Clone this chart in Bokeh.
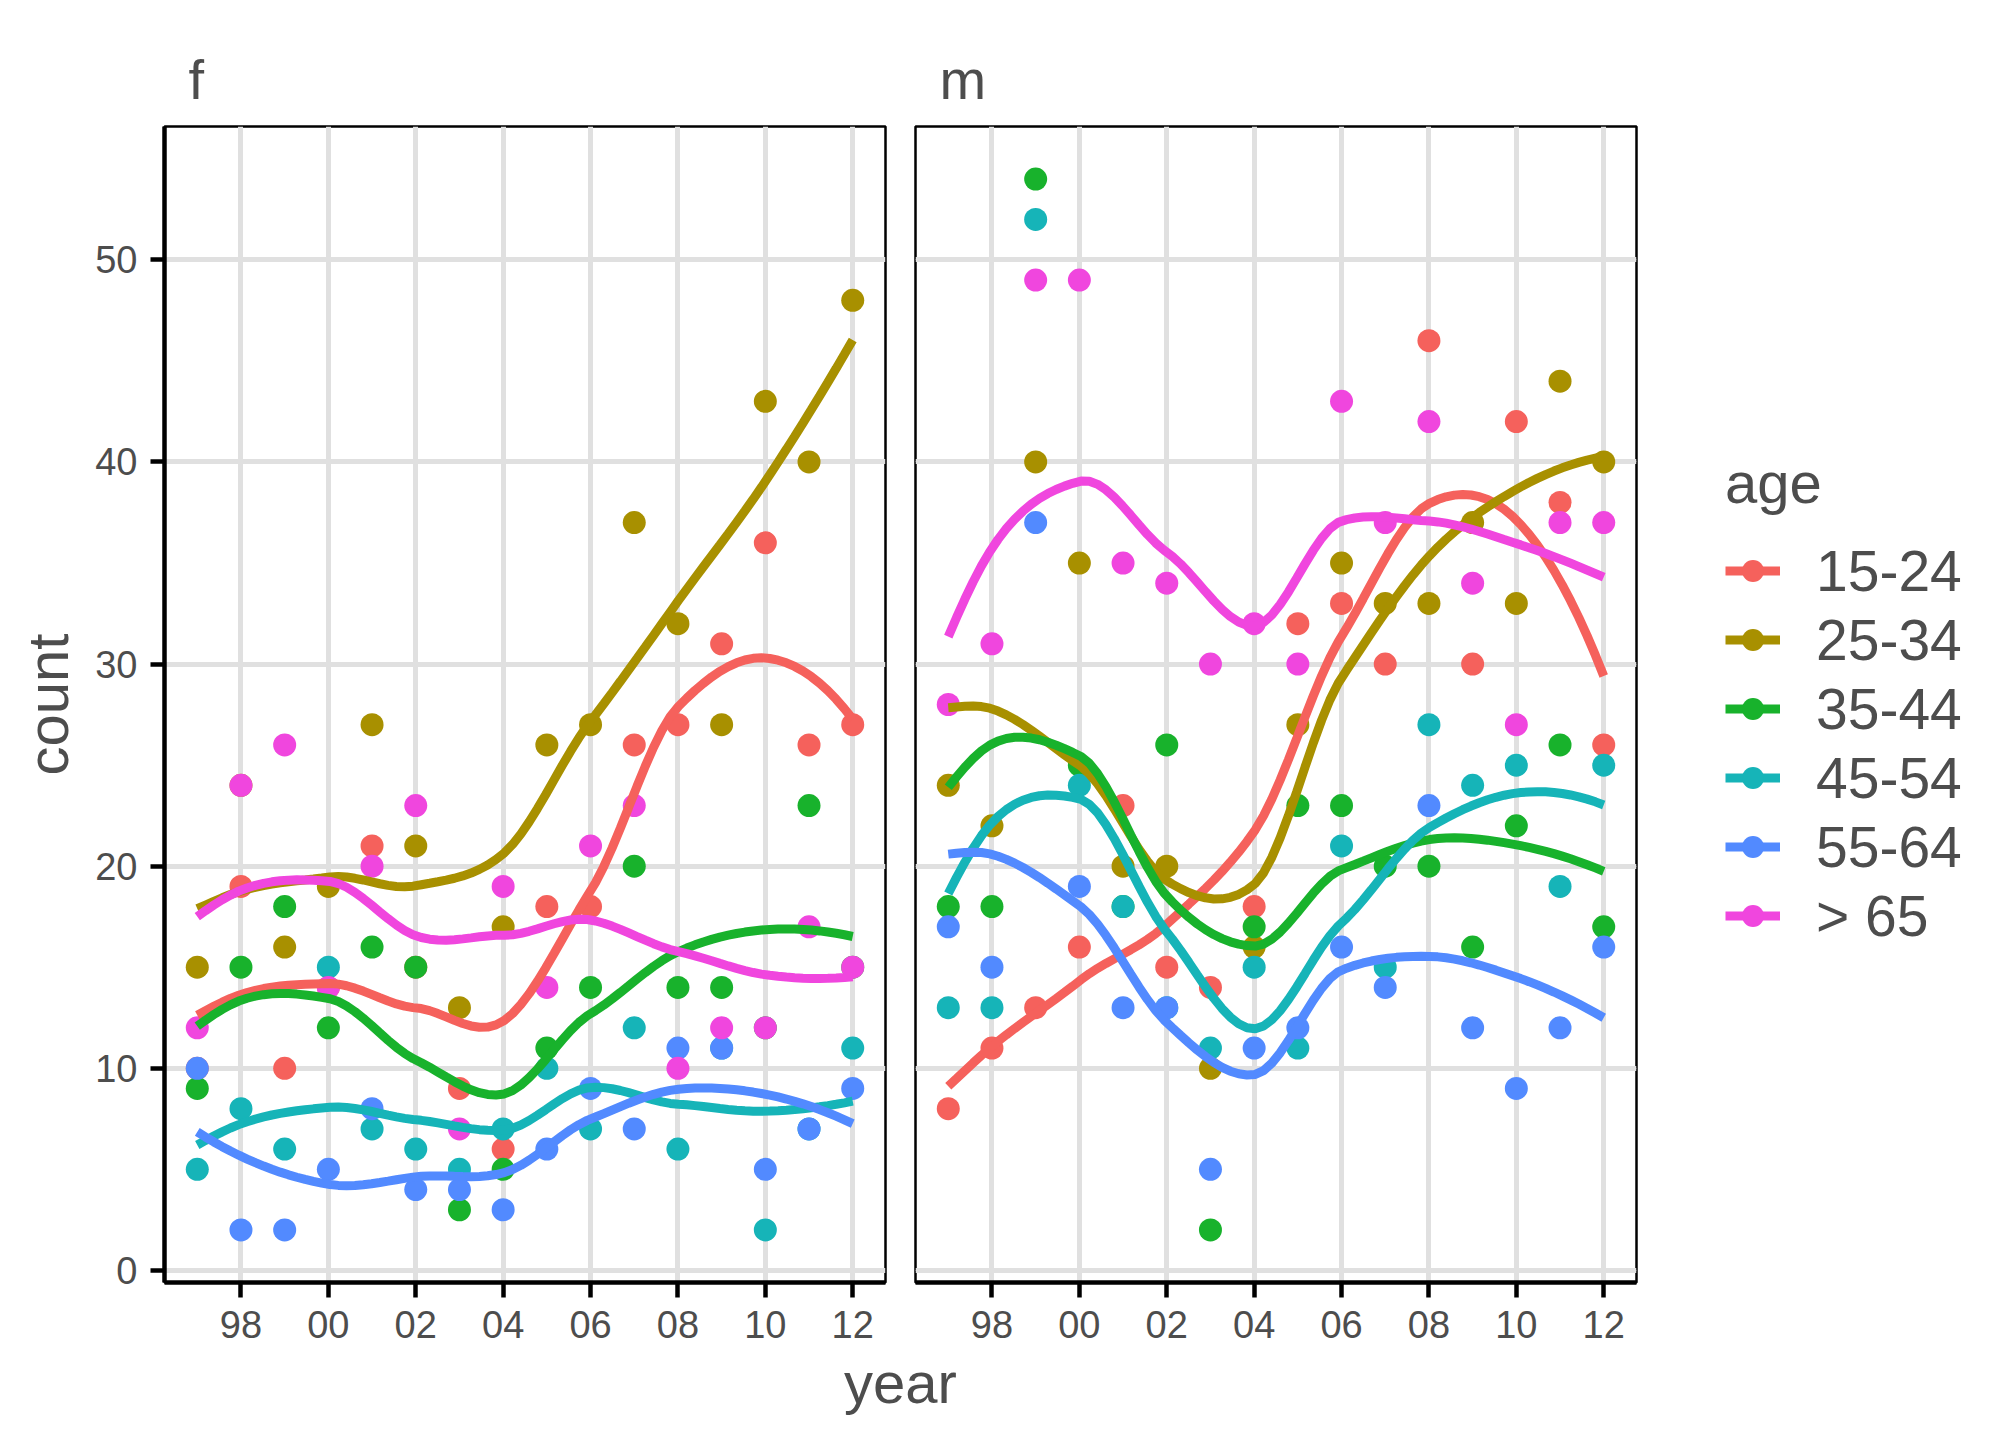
import numpy as np
from bokeh.plotting import figure
from bokeh.layouts import row, column
from bokeh.models import Range1d, FixedTicker, Legend, LegendItem, Label, Grid
from bokeh.embed import file_html
from bokeh.resources import INLINE

# ---------------- data ----------------
years = list(range(1997, 2013))
ages = ["15-24", "25-34", "35-44", "45-54", "55-64", "> 65"]
colors = ["#F5615C", "#A89000", "#18B22C", "#16B4B8", "#528AFF", "#F046DE"]

f_15_24 = [10, 19, 10, 14, 21, 15, 9, 6, 18, 18, 26, 27, 31, 36, 26, 27]
f_25_34 = [15, 24, 16, 19, 27, 21, 13, 17, 26, 27, 37, 32, 27, 43, 40, 48]
f_35_44 = [9, 15, 18, 12, 16, 15, 3, 5, 11, 14, 20, 14, 14, 12, 23, 15]
f_45_54 = [5, 8, 6, 15, 7, 6, 5, 7, 10, 7, 12, 6, 11, 2, 7, 11]
f_55_64 = [10, 2, 2, 5, 8, 4, 4, 3, 6, 9, 7, 11, 11, 5, 7, 9]
f_65 = [12, 24, 26, 14, 20, 23, 7, 19, 14, 21, 23, 10, 12, 12, 17, 15]

m_15_24 = [8, 11, 13, 16, 23, 15, 14, 18, 32, 33, 30, 46, 30, 42, 38, 26]
m_25_34 = [24, 22, 40, 35, 20, 20, 10, 16, 27, 35, 33, 33, 37, 33, 44, 40]
m_35_44 = [18, 18, 54, 25, 18, 26, 2, 17, 23, 23, 20, 20, 16, 22, 26, 17]
m_45_54 = [13, 13, 52, 24, 18, 13, 11, 15, 11, 21, 15, 27, 24, 25, 19, 25]
m_55_64 = [17, 15, 37, 19, 13, 13, 5, 11, 12, 16, 14, 23, 12, 9, 12, 16]
m_65 = [28, 31, 49, 49, 35, 34, 30, 32, 30, 43, 37, 42, 34, 27, 37, 37]

panels = {
    "f": [f_15_24, f_25_34, f_35_44, f_45_54, f_55_64, f_65],
    "m": [m_15_24, m_25_34, m_35_44, m_45_54, m_55_64, m_65],
}

x_ticks = [1998, 2000, 2002, 2004, 2006, 2008, 2010, 2012]
x_tick_labels = ["98", "00", "02", "04", "06", "08", "10", "12"]
y_ticks = [0, 10, 20, 30, 40, 50]


# ---- loess smoother as in R / geom_smooth (degree 2, span 0.75, tricube,
#      kd-tree vertices + cubic Hermite interpolation) ----
def _local_fit(x, y, x0, q):
    d = np.abs(x - x0)
    h = np.sort(d)[q - 1]
    w = np.clip(1 - (d / h) ** 3, 0, None) ** 3
    X = np.column_stack([np.ones(len(x)), x - x0, (x - x0) ** 2])
    XtW = X.T * w
    beta = np.linalg.solve(XtW @ X, XtW @ y)
    return beta[0], beta[1]


def loess(x, y, span=0.75, n_out=80):
    x = np.asarray(x, float)
    y = np.asarray(y, float)
    n = len(x)
    q = int(np.floor(n * span))
    fc = int(np.floor(n * span * 0.2))
    cuts = []

    def split(pts):
        if len(pts) <= fc:
            return
        m = (1 + len(pts)) // 2
        cuts.append(pts[m - 1])
        split(pts[:m])
        split(pts[m:])

    split(np.sort(x))
    rng = x.max() - x.min()
    verts = np.array(sorted(set([x.min() - 0.005 * rng] + cuts + [x.max() + 0.005 * rng])))
    fits = [_local_fit(x, y, v, q) for v in verts]
    vals = np.array([f[0] for f in fits])
    slopes = np.array([f[1] for f in fits])
    xs = np.linspace(x.min(), x.max(), n_out)
    out = []
    for xv in xs:
        i = min(max(np.searchsorted(verts, xv, side="right") - 1, 0), len(verts) - 2)
        a, b = verts[i], verts[i + 1]
        L = b - a
        t = (xv - a) / L
        h00 = 2 * t**3 - 3 * t**2 + 1
        h10 = t**3 - 2 * t**2 + t
        h01 = -2 * t**3 + 3 * t**2
        h11 = t**3 - t**2
        out.append(h00 * vals[i] + h10 * L * slopes[i] + h01 * vals[i + 1] + h11 * L * slopes[i + 1])
    return xs, np.array(out)


# ---------------- styling ----------------
FONT = "Liberation Sans"
TXT = "#4D4D4D"
GRID = "#E0E0E0"
X0, X1 = 1996.25, 2012.75
Y0, Y1 = -0.6, 56.6
FW, FH = 721, 1156
TOPB, BOTB = 126, 110
H_ROW = TOPB + FH + BOTB          # 1392


def make_panel(name, left_border, right_border, with_yaxis):
    p = figure(
        frame_width=FW, frame_height=FH,
        x_range=Range1d(X0, X1), y_range=Range1d(Y0, Y1),
        min_border_left=left_border, min_border_right=right_border,
        min_border_top=TOPB, min_border_bottom=BOTB,
        output_backend="svg", toolbar_location=None,
        y_axis_location="left" if with_yaxis else None,
        background_fill_color="white", border_fill_color="white",
    )
    p.outline_line_color = "black"
    p.outline_line_width = 2.5

    # strip label
    p.title.text = name
    p.title.text_font = FONT
    p.title.text_font_size = "56px"
    p.title.text_font_style = "normal"
    p.title.text_color = TXT
    p.title.align = "left"
    p.title.offset = 24
    p.title.standoff = 31

    # x axis
    xa = p.xaxis[0]
    xa.ticker = FixedTicker(ticks=x_ticks)
    xa.major_label_overrides = {t: l for t, l in zip(x_ticks, x_tick_labels)}
    xa.axis_line_width = 4.5
    xa.axis_line_color = "black"
    xa.major_tick_line_width = 4.5
    xa.major_tick_line_color = "black"
    xa.major_tick_out = 15
    xa.major_tick_in = 0
    xa.minor_tick_line_color = None
    xa.major_label_text_font = FONT
    xa.major_label_text_font_size = "38px"
    xa.major_label_text_color = TXT
    xa.major_label_standoff = 13

    p.xgrid.ticker = FixedTicker(ticks=x_ticks)
    p.xgrid.grid_line_color = GRID
    p.xgrid.grid_line_width = 5

    if with_yaxis:
        ya = p.yaxis[0]
        ya.ticker = FixedTicker(ticks=y_ticks)
        ya.axis_line_width = 4.5
        ya.axis_line_color = "black"
        ya.major_tick_line_width = 4.5
        ya.major_tick_line_color = "black"
        ya.major_tick_out = 14
        ya.major_tick_in = 0
        ya.minor_tick_line_color = None
        ya.major_label_text_font = FONT
        ya.major_label_text_font_size = "38px"
        ya.major_label_text_color = TXT
        ya.major_label_standoff = 13
        ya.axis_label = "count"
        ya.axis_label_text_font = FONT
        ya.axis_label_text_font_size = "58px"
        ya.axis_label_text_font_style = "normal"
        ya.axis_label_text_color = TXT
        ya.axis_label_standoff = 12
        p.ygrid.ticker = FixedTicker(ticks=y_ticks)
        p.ygrid.grid_line_color = GRID
        p.ygrid.grid_line_width = 5
    else:
        p.add_layout(Grid(dimension=1, ticker=FixedTicker(ticks=y_ticks),
                          grid_line_color=GRID, grid_line_width=5))

    series = panels[name]
    # points first (in age order), then the smooth lines on top
    for vals, c in zip(series, colors):
        p.scatter(years, vals, size=23, fill_color=c, line_color=None)
    for vals, c in zip(series, colors):
        xs, ys = loess(years, vals)
        p.line(xs, ys, line_color=c, line_width=9)
    return p


pf = make_panel("f", 164, 15, True)      # canvas 0..900
pm = make_panel("m", 15, 5, False)       # canvas 900..1641

# ---- legend figure (to the right) ----
LW = 2000 - 900 - 741
pl = figure(width=LW, height=H_ROW, x_range=Range1d(0, LW), y_range=Range1d(0, H_ROW),
            output_backend="svg", toolbar_location=None,
            x_axis_location=None, y_axis_location=None, min_border=0,
            outline_line_color=None, background_fill_color="white",
            border_fill_color="white")
pl.xgrid.visible = False
pl.ygrid.visible = False
items = []
for age, c in zip(ages, colors):
    lr = pl.line([-50, -40], [-50, -50], line_color=c, line_width=9)
    sr = pl.scatter([-50], [-50], size=23, fill_color=c, line_color=None)
    items.append(LegendItem(label=age, renderers=[lr, sr]))
legend = Legend(
    items=items, location=(1725 - 1641, 1282 - 950),
    title="age", title_text_font=FONT, title_text_font_size="58px",
    title_text_font_style="normal", title_text_color=TXT, title_standoff=20,
    label_text_font=FONT, label_text_font_size="57px", label_text_color=TXT,
    glyph_width=55, glyph_height=69, label_standoff=36, spacing=0,
    padding=0, margin=0, border_line_color=None, background_fill_alpha=0,
)
pl.add_layout(legend)

# ---- shared x-axis title centred under both panels (transparent strip that
#      overlaps the bottom border of the panels) ----
YH = 112
OVER = 72
py = figure(width=2000, height=YH, x_range=Range1d(0, 2000), y_range=Range1d(0, YH),
            title=None, output_backend="svg", toolbar_location=None,
            x_axis_location=None, y_axis_location=None, min_border=0,
            outline_line_color=None, background_fill_color=None,
            border_fill_color=None, margin=(-OVER, 0, 0, 0))
py.xgrid.visible = False
py.ygrid.visible = False
top_py = H_ROW - OVER
py.add_layout(Label(x=900, y=0, y_offset=YH - (1400 - top_py) + 18, text="year",
                    text_font=FONT, text_font_size="58px", text_color=TXT,
                    text_align="center", text_baseline="alphabetic"))

layout = column(row(pf, pm, pl), py)
open("out.html", "w").write(file_html(layout, INLINE))
